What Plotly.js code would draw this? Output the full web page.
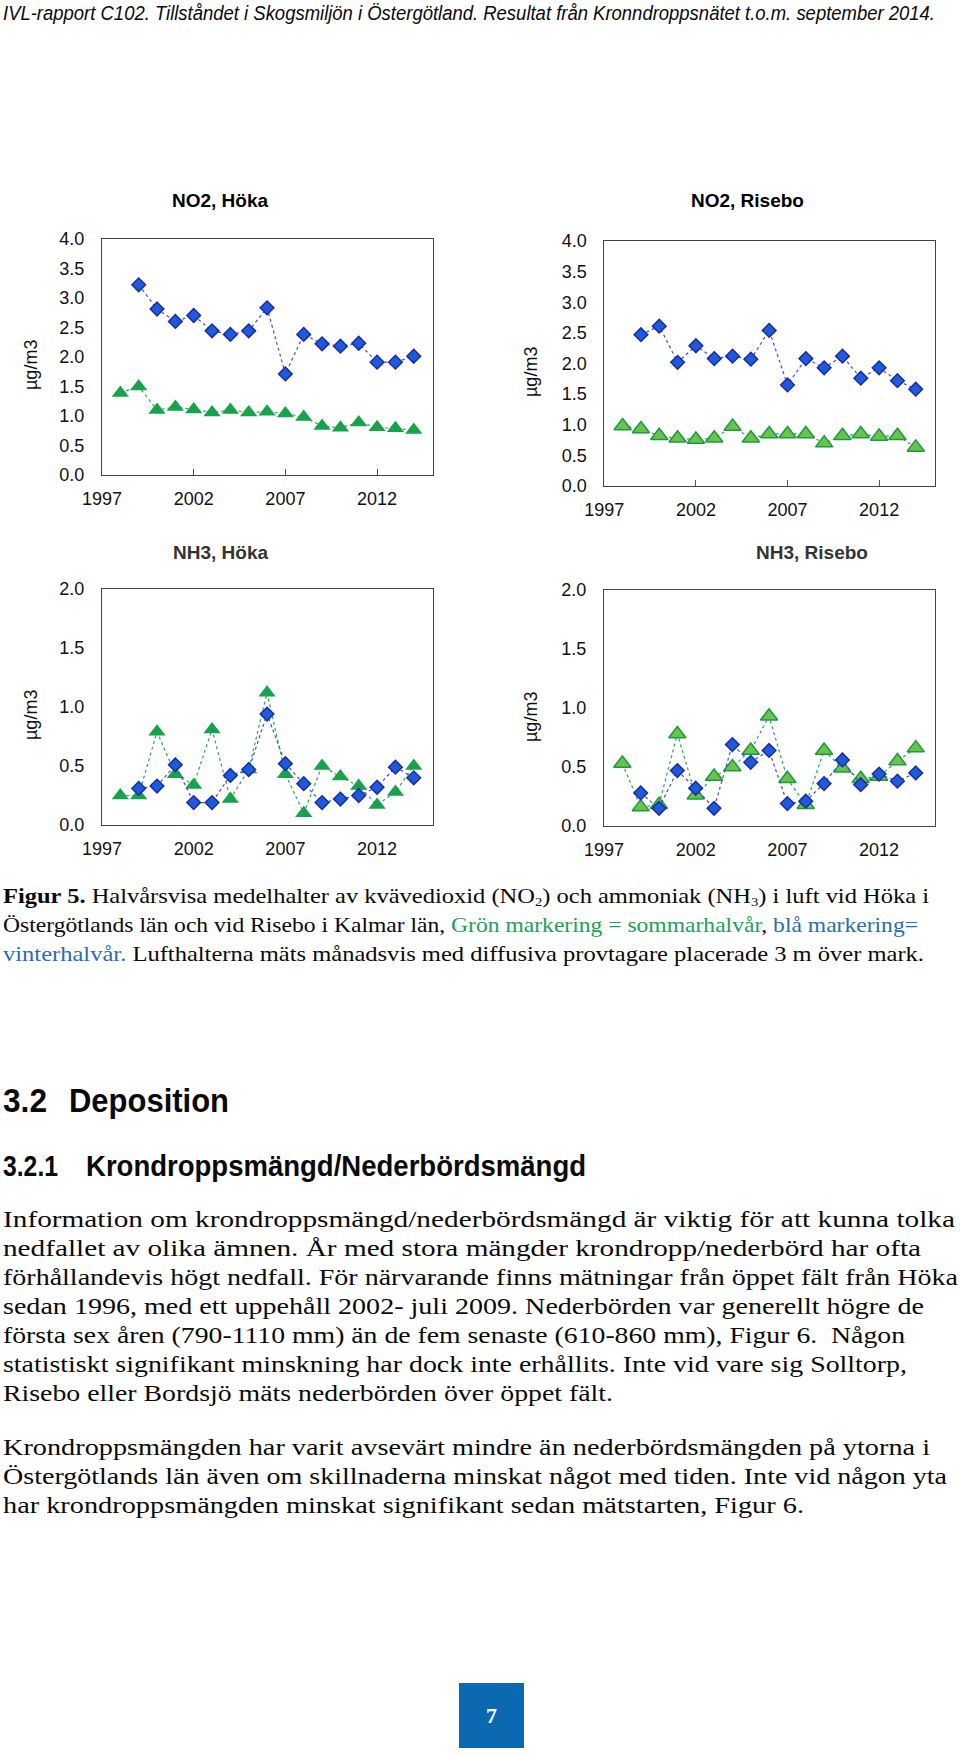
<!DOCTYPE html>
<html><head><meta charset="utf-8">
<script src="https://cdn.plot.ly/plotly-3.0.1.min.js"></script>
<style>
html,body{margin:0;padding:0;background:#fff;}
#page{position:relative;width:960px;height:1756px;overflow:hidden;background:#fff;}
#chart{position:absolute;left:0;top:0;width:960px;height:1756px;}
.t{position:absolute;white-space:nowrap;transform-origin:0 0;color:#0a0a0a;}
</style></head><body><div id="page"><div id="chart"></div></div>
<script>
// ---------------- DATA ----------------
const yearsSummer = [1998,1999,2000,2001,2002,2003,2004,2005,2006,2007,2008,2009,2010,2011,2012,2013,2014];
const yearsWinter = [1999,2000,2001,2002,2003,2004,2005,2006,2007,2008,2009,2010,2011,2012,2013,2014];
const xTicks = [1997,2002,2007,2012];

const no2HokaSummer   = [1.39,1.50,1.10,1.15,1.11,1.06,1.10,1.06,1.07,1.04,0.98,0.83,0.80,0.89,0.81,0.79,0.76];
const no2HokaWinter   = [3.22,2.81,2.60,2.70,2.44,2.38,2.44,2.83,1.71,2.38,2.22,2.18,2.23,1.91,1.91,2.01];
const no2RiseboSummer = [0.98,0.93,0.82,0.78,0.76,0.78,0.97,0.78,0.85,0.85,0.85,0.70,0.82,0.85,0.81,0.82,0.63];
const no2RiseboWinter = [2.47,2.61,2.02,2.29,2.08,2.12,2.07,2.54,1.65,2.08,1.93,2.12,1.76,1.93,1.72,1.58];
const nh3HokaSummer   = [0.25,0.25,0.79,0.43,0.34,0.81,0.22,0.47,1.12,0.43,0.10,0.50,0.41,0.33,0.17,0.28,0.50];
const nh3HokaWinter   = [0.31,0.33,0.51,0.19,0.19,0.42,0.47,0.94,0.52,0.35,0.19,0.22,0.25,0.32,0.49,0.40];
const nh3RiseboSummer = [0.53,0.16,0.18,0.78,0.26,0.42,0.50,0.64,0.93,0.40,0.18,0.64,0.49,0.40,0.42,0.55,0.66];
const nh3RiseboWinter = [0.28,0.15,0.47,0.32,0.15,0.69,0.54,0.64,0.19,0.21,0.36,0.56,0.35,0.44,0.38,0.45];

const panelTitles = ["NO2, Höka","NO2, Risebo","NH3, Höka","NH3, Risebo"];
const yTitle = "µg/m3";

// ---------------- LAYOUT ----------------
const W = 960, H = 1756;
const panels = [
  {box:[102,433,238.7,475], ymax:4, summer:no2HokaSummer, winter:no2HokaWinter, light:false, ticksIn:true,
   title:[220,201,'#000'], ytl:[31,365]},
  {box:[604.3,935,241,486], ymax:4, summer:no2RiseboSummer, winter:no2RiseboWinter, light:true, ticksIn:true,
   title:[747,200,'#000'], ytl:[531,372]},
  {box:[102,433,589,825], ymax:2, summer:nh3HokaSummer, winter:nh3HokaWinter, light:false, ticksIn:false,
   title:[220,552,'#333'], ytl:[31,715]},
  {box:[604,935,590,826], ymax:2, summer:nh3RiseboSummer, winter:nh3RiseboWinter, light:true, ticksIn:false,
   title:[812,552,'#333'], ytl:[531,717]}
];

const traces = [];
const layout = {
  width:W, height:H, margin:{l:0,r:0,t:0,b:0},
  paper_bgcolor:'rgba(0,0,0,0)', plot_bgcolor:'rgba(0,0,0,0)',
  showlegend:false, annotations:[],
  font:{family:'Liberation Sans, Arial, sans-serif', color:'#111'}
};

panels.forEach((p,i)=>{
  const n = i===0 ? '' : String(i+1);
  const xa = 'x'+n, ya = 'y'+n;
  const [x0,x1,y0,y1] = p.box;
  traces.push({
    x: yearsSummer, y: p.summer, xaxis:xa, yaxis:ya, type:'scatter', mode:'lines+markers',
    line:{color:'#2ea55a', width:1.2, dash:'dot'},
    marker:{symbol:'triangle-up', size:15,
      color: p.light ? '#6cc24f' : '#18a24b',
      line:{color: p.light ? '#1c9a3e' : '#18a24b', width: p.light ? 1.5 : 0}},
    hoverinfo:'x+y'
  });
  traces.push({
    x: yearsWinter, y: p.winter, xaxis:xa, yaxis:ya, type:'scatter', mode:'lines+markers',
    line:{color:'#3b4fd2', width:1.2, dash:'dot'},
    marker:{symbol:'diamond', size:10.5, color:'#1f5ad8', line:{color:'#1a2ca6', width:1.5}},
    hoverinfo:'x+y'
  });
  layout['xaxis'+n] = {
    domain:[x0/W, x1/W], anchor:ya, range:[1997,2015.05],
    tickmode:'array', tickvals:xTicks, ticktext:xTicks.map(String),
    ticks: p.ticksIn ? 'inside' : '', ticklen:6, tickcolor:'#555', tickwidth:1,
    showline:true, mirror:true, linecolor:'#444', linewidth:1,
    showgrid:false, zeroline:false, ticklabelstandoff:7,
    tickfont:{size:18, color:'#111', family:'Liberation Sans, Arial, sans-serif'}, fixedrange:true
  };
  layout['yaxis'+n] = {
    domain:[1-y1/H, 1-y0/H], anchor:xa, range:[0,p.ymax], dtick:0.5, tick0:0, tickformat:'.1f',
    ticks:'', showline:true, mirror:true, linecolor:'#444', linewidth:1,
    showgrid:false, zeroline:false, ticklabelstandoff:13,
    tickfont:{size:18, color:'#111', family:'Liberation Sans, Arial, sans-serif'}, fixedrange:true
  };
  layout.annotations.push({
    text:'<b>'+panelTitles[i]+'</b>', xref:'paper', yref:'paper',
    x:p.title[0]/W, y:1-p.title[1]/H, xanchor:'center', yanchor:'middle', showarrow:false,
    font:{size:19, color:p.title[2], family:'Liberation Sans, Arial, sans-serif'}
  });
  layout.annotations.push({
    text:yTitle, xref:'paper', yref:'paper', textangle:-90,
    x:p.ytl[0]/W, y:1-p.ytl[1]/H, xanchor:'center', yanchor:'middle', showarrow:false,
    font:{size:18, color:'#111', family:'Liberation Sans, Arial, sans-serif'}
  });
});

Plotly.newPlot('chart', traces, layout, {staticPlot:true, displayModeBar:false});

// ---------------- PAGE TEXT ----------------
const SERIF = "'Liberation Serif','DejaVu Serif',serif";
const SANS = "'Liberation Sans',Arial,sans-serif";
const green = '#22a05a', blue = '#2a6db0';
const lines = [
  {h:'IVL-rapport C102. Tillståndet i Skogsmiljön i Östergötland. Resultat från Kronndroppsnätet t.o.m. september 2014.', x:3, b:20, w:932, s:20, f:SANS, st:'italic'},
  {h:'<b>Figur 5.</b> Halvårsvisa medelhalter av kvävedioxid (NO<sub style="font-size:0.6em;vertical-align:-0.25em">2</sub>) och ammoniak (NH<sub style="font-size:0.6em;vertical-align:-0.25em">3</sub>) i luft vid Höka i', x:3, b:903, w:926, s:22, f:SERIF},
  {h:'Östergötlands län och vid Risebo i Kalmar län, <span style="color:'+green+'">Grön markering = sommarhalvår</span>, <span style="color:'+blue+'">blå markering=</span>', x:3, b:932, w:915, s:22, f:SERIF},
  {h:'<span style="color:'+blue+'">vinterhalvår.</span> Lufthalterna mäts månadsvis med diffusiva provtagare placerade 3 m över mark.', x:3, b:961, w:921, s:22, f:SERIF},
  {h:'3.2', x:3, b:1112, w:44, s:33, f:SANS, wt:'bold'},
  {h:'Deposition', x:69, b:1112, w:160, s:33, f:SANS, wt:'bold'},
  {h:'3.2.1', x:3, b:1176, w:55, s:29, f:SANS, wt:'bold'},
  {h:'Krondroppsmängd/Nederbördsmängd', x:86, b:1176, w:500, s:29, f:SANS, wt:'bold'},
  {h:'Information om krondroppsmängd/nederbördsmängd är viktig för att kunna tolka', x:3, b:1228, w:952, s:22.5, f:SERIF},
  {h:'nedfallet av olika ämnen. År med stora mängder krondropp/nederbörd har ofta', x:3, b:1257, w:918, s:22.5, f:SERIF},
  {h:'förhållandevis högt nedfall. För närvarande finns mätningar från öppet fält från Höka', x:3, b:1286, w:955, s:22.5, f:SERIF},
  {h:'sedan 1996, med ett uppehåll 2002- juli 2009. Nederbörden var generellt högre de', x:3, b:1315, w:921, s:22.5, f:SERIF},
  {h:'första sex åren (790-1110 mm) än de fem senaste (610-860 mm), Figur 6.&nbsp; Någon', x:3, b:1344, w:902, s:22.5, f:SERIF},
  {h:'statistiskt signifikant minskning har dock inte erhållits. Inte vid vare sig Solltorp,', x:3, b:1373, w:904, s:22.5, f:SERIF},
  {h:'Risebo eller Bordsjö mäts nederbörden över öppet fält.', x:3, b:1402, w:610, s:22.5, f:SERIF},
  {h:'Krondroppsmängden har varit avsevärt mindre än nederbördsmängden på ytorna i', x:3, b:1456, w:927, s:22.5, f:SERIF},
  {h:'Östergötlands län även om skillnaderna minskat något med tiden. Inte vid någon yta', x:3, b:1485, w:944, s:22.5, f:SERIF},
  {h:'har krondroppsmängden minskat signifikant sedan mätstarten, Figur 6.', x:3, b:1514, w:801, s:22.5, f:SERIF}
];
const page = document.getElementById('page');
const els = [];
lines.forEach(L=>{
  const d = document.createElement('div');
  d.className = 't';
  d.innerHTML = L.h;
  d.style.fontFamily = L.f;
  d.style.fontSize = L.s+'px';
  d.style.lineHeight = L.s+'px';
  d.style.left = L.x+'px';
  d.style.top = (L.b - 0.84*L.s)+'px';
  if (L.wt) d.style.fontWeight = L.wt;
  if (L.st) d.style.fontStyle = L.st;
  page.appendChild(d);
  els.push([d,L]);
});
// page number box
const box = document.createElement('div');
box.style.cssText = 'position:absolute;left:459px;top:1683px;width:65px;height:65px;background:#0b69b2;color:#fff;font-family:'+SERIF+';font-size:22px;font-weight:bold;display:flex;align-items:center;justify-content:center;';
box.textContent = '7';
page.appendChild(box);

function fit(){
  els.forEach(([d,L])=>{
    d.style.transform = 'none';
    const w = d.getBoundingClientRect().width;
    if (w>0) d.style.transform = 'scaleX('+(L.w/w)+')';
  });
}
fit();
if (document.fonts && document.fonts.ready) document.fonts.ready.then(fit);
</script></body></html>
